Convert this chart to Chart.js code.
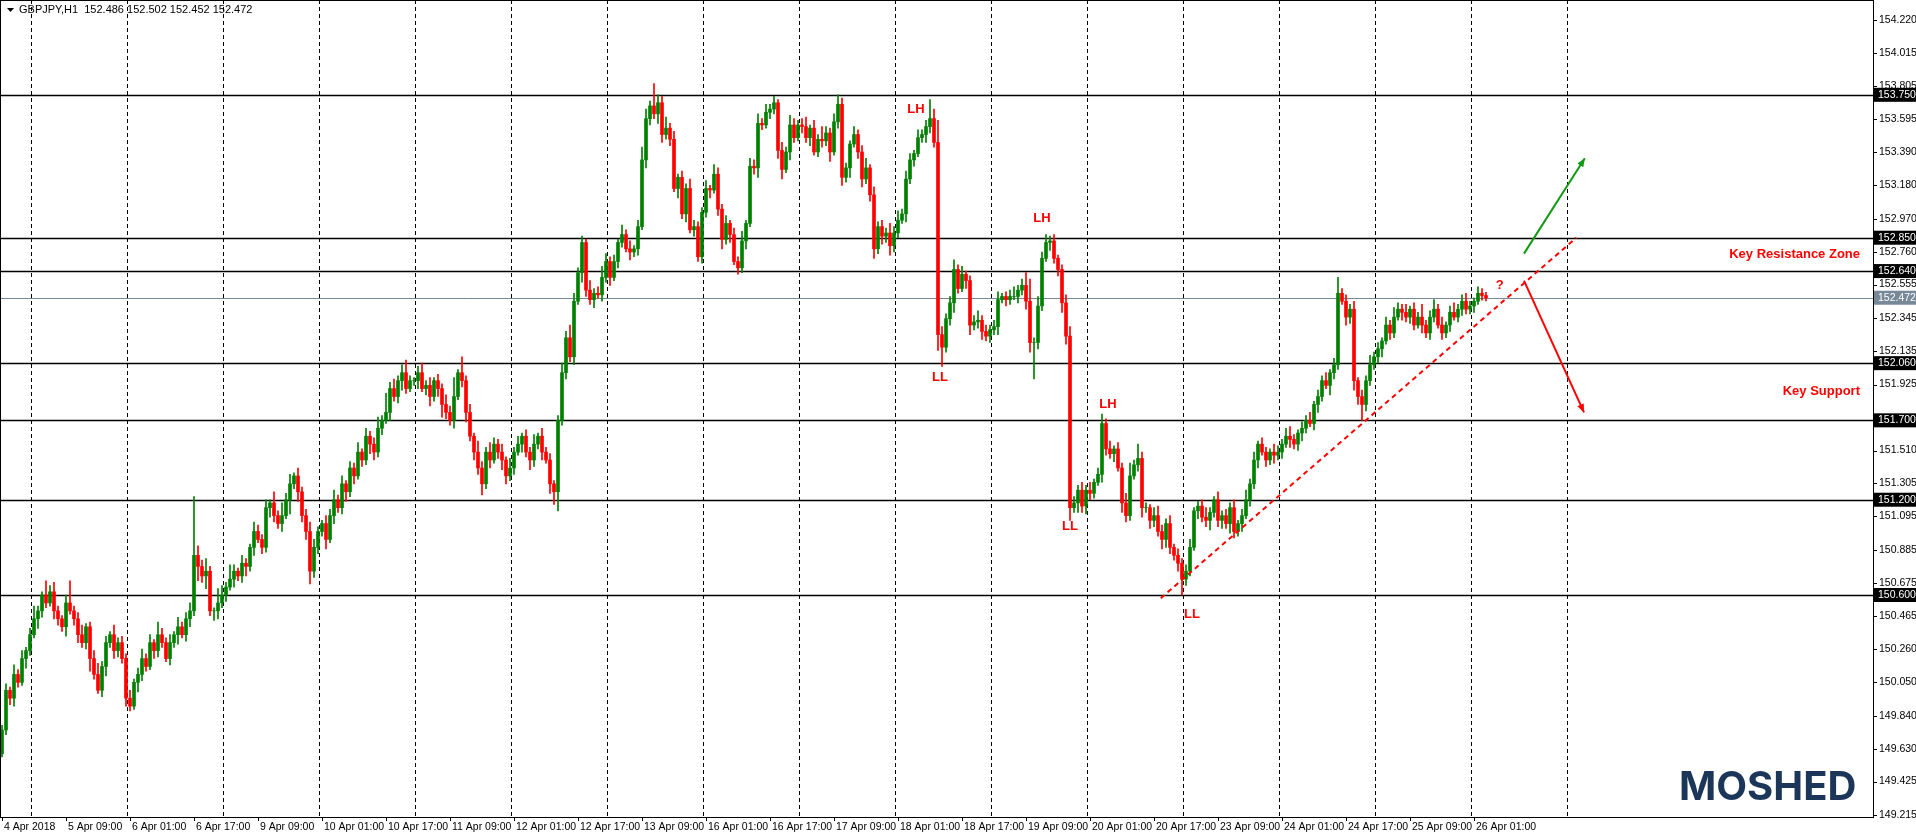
<!DOCTYPE html>
<html><head><meta charset="utf-8">
<script src="https://cdn.jsdelivr.net/npm/chart.js@4.4.1/dist/chart.umd.min.js"></script>
<style>html,body{margin:0;padding:0;background:#fff;}#wrap{width:1916px;height:838px;}</style>
</head><body><div id="wrap"><canvas id="c" width="1916" height="838"></canvas></div>
<script>
// hourly closes, read segment by segment (24 bars between dashed grid lines)
const seg0 = [149.75,150.0,149.95,150.1,150.05,150.2,150.25];
const seg1 = [150.35,150.45,150.5,150.6,150.55,150.62,150.5,150.45,150.4,150.55,150.5,150.45,150.35,150.3,150.4,150.2,150.1,150.0,150.15,150.3,150.35,150.25,150.3,150.2];
const seg2 = [149.95,149.9,150.05,150.1,150.2,150.15,150.3,150.25,150.35,150.3,150.2,150.3,150.35,150.4,150.35,150.45,150.5,150.85,150.78,150.72,150.75,150.5,150.5,150.55];
const seg3 = [150.6,150.65,150.7,150.75,150.72,150.8,150.78,150.9,151.0,150.95,150.9,151.15,151.18,151.1,151.05,151.1,151.2,151.3,151.35,151.25,151.1,151.0,150.75,150.9];
const seg4 = [151.0,151.05,150.95,151.1,151.2,151.15,151.3,151.25,151.4,151.35,151.5,151.45,151.6,151.55,151.5,151.65,151.7,151.75,151.9,151.85,151.95,152.0,151.9,151.95];
const seg5 = [151.95,152.0,151.9,151.92,151.85,151.95,151.9,151.8,151.75,151.7,151.85,152.0,151.95,151.75,151.6,151.5,151.4,151.3,151.5,151.45,151.55,151.5,151.45,151.35];
const seg6 = [151.4,151.5,151.55,151.6,151.5,151.45,151.55,151.6,151.5,151.45,151.3,151.25,151.7,152.0,152.22,152.1,152.45,152.63,152.82,152.52,152.46,152.5,152.49,152.6];
const seg7 = [152.7,152.6,152.7,152.82,152.87,152.78,152.76,152.78,152.92,153.34,153.6,153.68,153.63,153.7,153.5,153.54,153.47,153.16,153.23,153.0,153.16,152.9,152.92,152.73];
const seg8 = [153.01,153.16,153.15,153.25,153.03,152.84,152.94,152.87,152.7,152.66,152.83,152.94,153.3,153.29,153.57,153.56,153.64,153.66,153.7,153.4,153.28,153.39,153.56,153.48];
const seg9 = [153.56,153.55,153.48,153.54,153.39,153.47,153.46,153.51,153.39,153.58,153.69,153.23,153.29,153.44,153.5,153.39,153.22,153.29,153.12,152.78,152.92,152.86,152.88,152.8];
const seg10 = [152.88,152.96,153.0,153.22,153.34,153.38,153.48,153.5,153.55,153.6,153.45,152.24,152.16,152.34,152.44,152.65,152.53,152.62,152.58,152.3,152.32,152.33,152.26,152.23];
const seg11 = [152.27,152.29,152.46,152.48,152.46,152.48,152.48,152.52,152.55,152.45,152.19,152.19,152.42,152.72,152.82,152.83,152.72,152.65,152.44,152.23,151.15,151.18,151.26,151.16];
const seg12 = [151.26,151.24,151.31,151.36,151.68,151.52,151.49,151.52,151.4,151.18,151.1,151.35,151.42,151.46,151.15,151.15,151.07,151.1,151.0,150.95,151.05,150.9,150.85,150.8];
const seg13 = [150.7,150.75,150.9,151.13,151.16,151.09,151.07,151.12,151.2,151.07,151.1,151.05,151.15,151.0,151.05,151.1,151.2,151.3,151.45,151.55,151.5,151.45,151.5,151.48];
const seg14 = [151.5,151.55,151.6,151.58,151.55,151.62,151.65,151.7,151.68,151.8,151.85,151.95,151.92,152.0,152.05,152.5,152.45,152.35,152.4,151.95,151.85,151.8,151.95,152.05];
const seg15 = [152.1,152.15,152.2,152.3,152.25,152.35,152.4,152.38,152.35,152.4,152.3,152.35,152.3,152.25,152.35,152.4,152.3,152.25,152.3,152.38,152.35,152.4,152.45,152.4];
const seg16 = [152.42,152.45,152.5,152.486,152.472];
const firstOpen = 149.6;

// wick lengths beyond the body, in pips (0.01), read per bar
const wickUp = [
 3,4,2,6,3,5,2,
 4,8,3,2,9,4,6,3,2,5,14,3,4,6,2,3,5,7,3,4,2,6,3,4,
 3,5,2,4,6,3,5,2,8,4,3,5,2,6,3,4,5,37,6,4,8,3,2,9,
 6,3,9,4,2,5,3,2,6,4,3,5,2,7,3,8,4,6,2,5,3,4,6,5,
 3,2,5,4,6,3,5,2,4,3,6,2,5,3,4,7,3,12,4,6,3,5,8,3,
 2,4,6,3,5,2,4,3,6,4,12,2,10,3,5,2,7,4,3,6,4,3,5,2,
 6,3,5,2,4,3,6,2,5,3,4,2,3,6,4,8,5,3,4,2,6,3,4,7,
 5,3,4,2,6,3,5,2,4,8,6,3,14,5,4,7,3,5,2,4,3,6,4,3,
 3,5,2,6,4,3,5,2,4,3,6,2,5,4,6,3,5,3,4,2,5,3,6,4,
 3,4,6,2,5,3,8,4,3,5,6,4,3,2,5,3,4,6,2,5,3,4,3,6,
 4,6,3,5,4,2,5,3,4,12,6,14,5,3,4,6,3,5,2,3,4,6,3,4,
 3,4,5,2,3,4,6,3,4,8,14,3,6,4,5,3,4,2,3,5,6,4,3,5,
 3,5,2,4,6,3,5,2,4,3,6,8,3,9,4,3,2,5,6,4,3,5,2,4,
 3,4,5,2,3,4,6,3,2,5,3,4,3,5,2,4,6,3,5,2,4,3,2,5,
 4,3,5,6,3,2,4,3,5,2,4,3,5,2,4,10,3,4,3,5,2,4,3,6,
 3,4,2,5,3,6,4,3,5,2,4,3,8,3,4,6,3,5,2,4,6,3,4,5,
 3,2,4,3,2];
const wickDn = [
 2,3,4,5,3,2,6,
 3,2,6,4,3,2,5,4,3,6,2,4,5,3,4,8,3,2,4,6,3,5,4,3,
 5,3,2,6,4,3,2,5,4,3,2,4,3,6,2,4,5,3,9,4,8,3,6,5,
 3,4,2,5,3,4,6,3,5,2,4,3,6,4,3,5,2,9,3,6,4,5,8,4,
 4,3,6,2,5,3,4,6,3,5,2,4,3,6,5,3,4,2,5,3,4,6,3,2,
 3,5,2,4,6,3,5,8,4,3,5,2,4,6,3,5,4,7,3,5,2,4,6,5,
 3,4,2,5,3,6,4,3,5,2,6,8,12,3,4,3,5,2,6,4,3,5,2,4,
 3,5,2,4,3,2,5,3,4,2,5,4,3,6,5,3,4,2,6,3,5,2,4,3,
 4,3,5,2,4,6,3,5,2,4,3,5,2,4,6,3,2,4,3,5,6,2,5,3,
 2,4,3,5,2,3,4,3,6,2,4,5,3,6,2,4,5,3,4,6,3,5,4,6,
 4,3,2,5,3,4,2,3,5,4,3,10,12,3,4,6,3,2,5,6,3,4,5,3,
 4,3,5,2,4,3,2,4,3,5,6,23,4,3,2,5,3,4,6,5,8,3,6,4,
 5,4,3,2,5,4,3,5,2,6,4,3,2,4,6,3,5,4,3,6,5,4,3,5,
 10,4,3,2,5,3,4,6,3,4,5,3,6,4,3,5,2,4,3,5,2,4,3,5,
 3,4,2,5,3,4,5,3,2,4,5,3,2,6,4,3,2,5,4,6,5,10,4,3,
 3,4,5,2,4,3,2,5,3,4,3,2,5,3,4,3,2,4,3,4,2,3,4,3,
 3,4,2,3,2];

const dateLabels = ["4 Apr 2018","5 Apr 09:00","6 Apr 01:00","6 Apr 17:00","9 Apr 09:00","10 Apr 01:00","10 Apr 17:00","11 Apr 09:00","12 Apr 01:00","12 Apr 17:00","13 Apr 09:00","16 Apr 01:00","16 Apr 17:00","17 Apr 09:00","18 Apr 01:00","18 Apr 17:00","19 Apr 09:00","20 Apr 01:00","20 Apr 17:00","23 Apr 09:00","24 Apr 01:00","24 Apr 17:00","25 Apr 09:00","26 Apr 01:00"];
const priceTicks = [154.220,154.015,153.805,153.595,153.390,153.180,152.970,152.760,152.555,152.345,152.135,151.925,151.510,151.305,151.095,150.885,150.675,150.465,150.260,150.050,149.840,149.630,149.425,149.215];
const levels = [153.750,152.850,152.640,152.060,151.700,151.200,150.600];
const lastPrice = 152.472;

const closes = [].concat(seg0,seg1,seg2,seg3,seg4,seg5,seg6,seg7,seg8,seg9,seg10,seg11,seg12,seg13,seg14,seg15,seg16);
const opens = closes.map((c,i)=> i===0 ? firstOpen : closes[i-1]);
const highs = closes.map((c,i)=> Math.max(c,opens[i]) + (wickUp[i]||0)/100);
const lows  = closes.map((c,i)=> Math.min(c,opens[i]) - (wickDn[i]||0)/100);
const bodies = closes.map((c,i)=>({x:i, y:[opens[i], c]}));
const wicks = closes.map((c,i)=>({x:i, y:[lows[i], highs[i]]}));
const cols = closes.map((c,i)=> c>=opens[i] ? '#008000' : '#ff0000');

const FONT = '"Liberation Sans", Arial, sans-serif';
const overlay = {
  id:'overlay',
  beforeDatasetsDraw(ch){
    const {ctx, chartArea:a, scales:{x,y}} = ch;
    ctx.save();
    ctx.strokeStyle='#000'; ctx.lineWidth=1; ctx.setLineDash([4,3]);
    for(let k=0;k<=16;k++){ const px=Math.round(x.getPixelForValue(7.25+24*k))+0.5; ctx.beginPath(); ctx.moveTo(px,a.top); ctx.lineTo(px,a.bottom); ctx.stroke(); }
    ctx.setLineDash([]);
    levels.forEach(v=>{ const py=Math.round(y.getPixelForValue(v))+0.5; ctx.lineWidth=1.5; ctx.beginPath(); ctx.moveTo(a.left,py); ctx.lineTo(a.right,py); ctx.stroke(); });
    const gp=Math.round(y.getPixelForValue(lastPrice))+0.5;
    ctx.strokeStyle='#778899'; ctx.lineWidth=1; ctx.beginPath(); ctx.moveTo(a.left,gp); ctx.lineTo(a.right,gp); ctx.stroke();
    ctx.restore();
  },
  afterDatasetsDraw(ch){
    const {ctx, chartArea:a, scales:{x,y}} = ch;
    const P=(i,v)=>[x.getPixelForValue(i), y.getPixelForValue(v)];
    ctx.save();
    ctx.strokeStyle='#ff0000'; ctx.lineWidth=2; ctx.setLineDash([5,4]);
    let p1=P(289.7,150.58), p2=P(393.6,152.85);
    ctx.beginPath(); ctx.moveTo(...p1); ctx.lineTo(...p2); ctx.stroke();
    ctx.setLineDash([]);
    function arrow(c,s,e){ const [x1,y1]=P(...s),[x2,y2]=P(...e); ctx.strokeStyle=c; ctx.fillStyle=c; ctx.lineWidth=2;
      ctx.beginPath(); ctx.moveTo(x1,y1); ctx.lineTo(x2,y2); ctx.stroke();
      const ang=Math.atan2(y2-y1,x2-x1); ctx.beginPath(); ctx.moveTo(x2,y2);
      ctx.lineTo(x2-9*Math.cos(ang-0.4),y2-9*Math.sin(ang-0.4)); ctx.lineTo(x2-9*Math.cos(ang+0.4),y2-9*Math.sin(ang+0.4)); ctx.closePath(); ctx.fill(); }
    arrow('#119911',[380.5,152.75],[395.7,153.35]);
    arrow('#ff0000',[380.5,152.58],[395.5,151.75]);
    ctx.font='bold 13px '+FONT; ctx.fillStyle='#ff0000'; ctx.textAlign='center'; ctx.textBaseline='middle';
    [['LH',228.5,153.66],['LL',234.5,151.97],['LH',260,152.97],['LL',267,151.03],['LH',276.5,151.8],['LL',297.5,150.48],['?',374.4,152.55]].forEach(t=>{const [px,py]=P(t[1],t[2]); ctx.fillText(t[0],px,py);});
    ctx.textAlign='right';
    ctx.fillText('Key Resistance Zone',1860,y.getPixelForValue(152.745));
    ctx.fillText('Key Support',1860,y.getPixelForValue(151.88));
    ctx.font='bold 40px Inter, "Open Sans", sans-serif'; ctx.fillStyle='#1b3658'; ctx.textAlign='left'; ctx.textBaseline='alphabetic';
    ctx.fillText('MOSHED',1679,800);
    ctx.font='11px '+FONT; ctx.fillStyle='#000'; ctx.textBaseline='middle';
    ctx.beginPath(); ctx.moveTo(7,8); ctx.lineTo(14,8); ctx.lineTo(10.5,12); ctx.closePath(); ctx.fill();
    ctx.fillText('GBPJPY,H1  152.486 152.502 152.452 152.472',19,10);
    ctx.strokeStyle='#000'; ctx.lineWidth=1; ctx.strokeRect(a.left+0.5,a.top+0.5,a.right-a.left,a.bottom-a.top);
    ctx.font='10.5px '+FONT; ctx.textAlign='left';
    priceTicks.forEach(v=>{const py=y.getPixelForValue(v); ctx.fillStyle='#000'; ctx.fillRect(a.right,Math.round(py),4,1); ctx.fillText(v.toFixed(3),a.right+6,py);});
    levels.concat([lastPrice]).forEach(v=>{const py=y.getPixelForValue(v); ctx.fillStyle=v===lastPrice?'#778899':'#000'; ctx.fillRect(a.right+1,py-7,42,14); ctx.fillStyle='#fff'; ctx.fillText(v.toFixed(3),a.right+5,py);});
    ctx.fillStyle='#000'; ctx.textBaseline='top';
    dateLabels.forEach((t,m)=>{ const px=x.getPixelForValue(16*m); ctx.fillRect(Math.round(px),a.bottom,1,4); ctx.fillText(t,px+2,a.bottom+5);});
    ctx.restore();
  }
};

new Chart(document.getElementById('c'),{
  type:'bar',
  data:{datasets:[
    {data:wicks, backgroundColor:cols, borderWidth:0, barThickness:1, grouped:false, order:2},
    {data:bodies, backgroundColor:cols, borderWidth:0, barThickness:3, grouped:false, order:1}
  ]},
  options:{
    responsive:false, animation:false, events:[],
    layout:{padding:{left:0,top:0,right:43,bottom:21}},
    plugins:{legend:{display:false},tooltip:{enabled:false}},
    scales:{
      x:{type:'linear', min:-0.5, max:467.75, display:false, offset:false},
      y:{min:149.202, max:154.347, display:false}
    }
  },
  plugins:[overlay]
});
</script></body></html>
